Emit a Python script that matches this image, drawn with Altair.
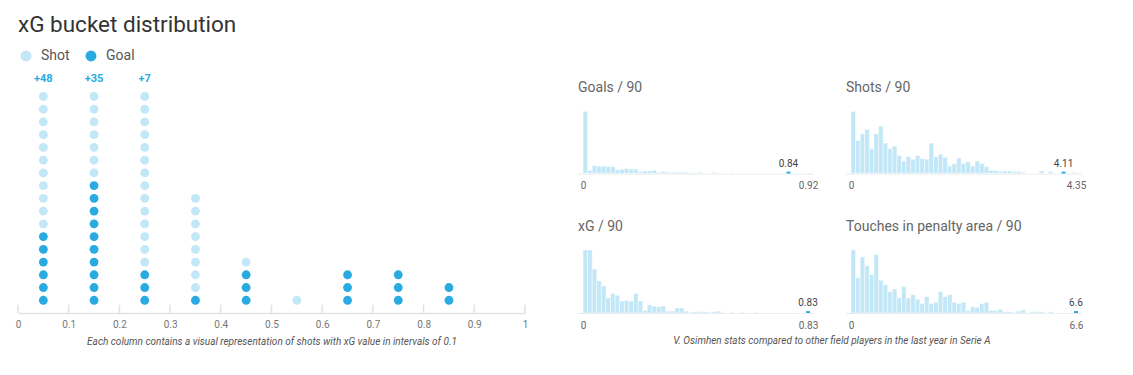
import altair as alt
import pandas as pd

FONT = "Roboto"
LIGHT = "#c2e7f7"
DARK = "#29abe2"

# ---------------- left chart data ----------------
bucket_centers = [0.05, 0.15, 0.25, 0.35, 0.45, 0.55, 0.65, 0.75, 0.85]
shots_per_bucket = [65, 52, 24, 9, 4, 1, 3, 3, 2]   # all shots (goals included)
goals_per_bucket = [6, 10, 3, 1, 3, 0, 3, 3, 2]
MAX_DOTS = 17
xg_ticks = [0, 0.1, 0.2, 0.3, 0.4, 0.5, 0.6, 0.7, 0.8, 0.9, 1]
kinds = ["Shot", "Goal"]

# ---------------- right charts data (relative bar heights, 49 bins) ----------------
goals90 = [100, 5, 13, 12, 12, 11, 11, 6, 7, 8, 7, 7, 3, 4, 4, 5, 2, 3, 2, 2,
           2, 2, 2, 1, 1, 2, 0, 0, 2, 1, 1, 0, 1, 0, 0, 0, 0, 0, 0, 0,
           0, 0, 0, 0, 0, 1, 0, 0, 0]
shots90 = [100, 53, 64, 71, 40, 64, 76, 49, 40, 44, 29, 20, 27, 23, 29, 24, 23, 49, 27, 31,
           26, 12, 16, 25, 16, 19, 12, 20, 16, 11, 5, 5, 3, 4, 4, 3, 3, 2, 0, 0,
           0, 4, 0, 3, 0, 0, 0, 0, 2]
xg90 = [100, 100, 70, 51, 43, 24, 31, 28, 19, 20, 19, 31, 19, 4, 13, 11, 10, 11, 3, 3,
        8, 8, 3, 1, 2, 2, 2, 1, 2, 3, 1, 0, 1, 0, 1, 0, 0, 1, 0, 0,
        0, 0, 0, 0, 0, 0, 0, 0, 0]
touches90 = [100, 56, 89, 75, 61, 93, 52, 45, 34, 38, 24, 42, 24, 29, 22, 15, 26, 15, 17, 34,
             26, 29, 17, 15, 17, 4, 10, 9, 15, 17, 4, 4, 6, 2, 2, 1, 3, 5, 0, 2,
             2, 2, 0, 2, 0, 0, 0, 0, 0]
panel_titles = ["Goals / 90", "Shots / 90", "xG / 90", "Touches in penalty area / 90"]
panel_max = [0.92, 4.35, 0.83, 6.6]
player_values = [0.84, 4.11, 0.83, 6.6]

left_caption = "Each column contains a visual representation of shots with xG value in intervals of 0.1"
right_caption = "V. Osimhen stats compared to other field players in the last year in Serie A"

# ---------------- left chart ----------------
rows = []
for b, t, g in zip(bucket_centers, shots_per_bucket, goals_per_bucket):
    for r in range(1, min(t, MAX_DOTS) + 1):
        rows.append({"xg": b, "row": r, "kind": "Goal" if r <= g else "Shot"})
dots = pd.DataFrame(rows)
overflow = pd.DataFrame(
    [{"xg": b, "label": f"+{t - MAX_DOTS}"} for b, t in zip(bucket_centers, shots_per_bucket) if t > MAX_DOTS]
)
ticks_df = pd.DataFrame({"xg": xg_ticks})

x_left = alt.X(
    "xg:Q",
    scale=alt.Scale(domain=[0, 1], nice=False),
    axis=alt.Axis(
        values=xg_ticks, labelExpr="'' + datum.value", title=left_caption, grid=False, ticks=False,
        domainColor="#e2e2e2", domainWidth=1.5, labelColor="#777777", labelFontSize=10,
        labelFont=FONT, labelPadding=6, labelFlush=False, titleFont=FONT, titleFontSize=10,
        titleFontStyle="italic", titleFontWeight="normal", titleColor="#555555", titlePadding=7,
    ),
)
yscale_left = alt.Scale(domain=[0, 19], nice=False)

tick_rules = alt.Chart(ticks_df).transform_calculate(
    y0="0", y1="0.65"
).mark_rule(color="#e2e2e2", strokeWidth=1.5).encode(
    x=x_left, y=alt.Y("y0:Q", scale=yscale_left, axis=None), y2="y1:Q"
)
points = alt.Chart(dots).mark_circle(size=78, opacity=1).encode(
    x=x_left,
    y=alt.Y("row:Q", scale=yscale_left, axis=None),
    color=alt.Color(
        "kind:N",
        scale=alt.Scale(domain=kinds, range=[LIGHT, DARK]),
        legend=alt.Legend(
            orient="none", legendX=1, legendY=-22, direction="horizontal", title=None,
            symbolType="circle", symbolSize=120, symbolStrokeWidth=0, labelFontSize=14,
            labelColor="#555555", labelFont=FONT, columnPadding=14, labelOffset=8,
        ),
    ),
)
labels = alt.Chart(overflow).transform_calculate(
    ytop=str(MAX_DOTS)
).mark_text(
    color=DARK, fontSize=11, font=FONT, fontWeight="bold", dy=-17
).encode(x=x_left, y=alt.Y("ytop:Q", scale=yscale_left, axis=None), text="label:N")

left = alt.layer(tick_rules, points, labels).properties(width=507, height=242)


# ---------------- right charts ----------------
def hist(values, vmax, player, title, height, ydom, title_offset):
    n = len(values)
    w = vmax / n
    df = pd.DataFrame({
        "x0": [i * w for i in range(n)],
        "x1": [(i + 1) * w for i in range(n)],
        "count": values,
    })
    pdf = pd.DataFrame({"x0": [player]})
    x = alt.X(
        "x0:Q",
        scale=alt.Scale(domain=[0, vmax], nice=False, zero=True),
        axis=alt.Axis(
            values=[0, vmax], labelExpr="'' + datum.value", title=None, grid=False, ticks=False,
            domainColor="#e6e6e6", domainWidth=1, labelColor="#666666", labelFontSize=10,
            labelFont=FONT, labelPadding=7, labelFlush=False,
        ),
    )
    ysc = alt.Scale(domain=[0, ydom], nice=False)
    bars = alt.Chart(df).transform_calculate(base="0").mark_bar(
        color=LIGHT, stroke="white", strokeWidth=0.5
    ).encode(
        x=x, x2="x1:Q", y=alt.Y("count:Q", scale=ysc, axis=None), y2="base:Q"
    )
    mark = alt.Chart(pdf).transform_calculate(b0="0", b1="3").mark_bar(
        color=DARK, width=4
    ).encode(x=x, y=alt.Y("b0:Q", scale=ysc, axis=None), y2="b1:Q")
    txt = alt.Chart(pdf).transform_calculate(b0="0").mark_text(
        color="#444444", fontSize=10, font=FONT, dy=-10, baseline="middle"
    ).encode(x=x, y=alt.Y("b0:Q", scale=ysc, axis=None), text=alt.Text("x0:Q", format="~g"))
    return alt.layer(bars, mark, txt).properties(
        width=235, height=height,
        title=alt.TitleParams(
            title, anchor="start", fontSize=14, color="#666666", fontWeight="normal",
            font=FONT, offset=title_offset,
        ),
    )


h1 = hist(goals90, panel_max[0], player_values[0], panel_titles[0], 102.5, 165, -24)
h2 = hist(shots90, panel_max[1], player_values[1], panel_titles[1], 102.5, 165, -24)
h3 = hist(xg90, panel_max[2], player_values[2], panel_titles[2], 63, 100, 16)
h4 = hist(touches90, panel_max[3], player_values[3], panel_titles[3], 63, 100, 16)

right = alt.concat(
    h1, h2, h3, h4, columns=2, spacing={"row": 76, "column": 33}, bounds="flush",
    title=alt.TitleParams(
        right_caption, orient="bottom", anchor="middle", fontSize=10, fontStyle="italic",
        fontWeight="normal", color="#555555", font=FONT, offset=6,
    ),
)

chart = alt.hconcat(
    left, right, spacing=53, bounds="flush",
    padding={"left": 7, "top": 5, "right": 5, "bottom": 5},
    title=alt.TitleParams(
        "xG bucket distribution", anchor="start", fontSize=22.5, color="#333333",
        fontWeight="normal", font=FONT, offset=13, frame="group",
    ),
).configure_view(stroke=None)

chart.save("out.html", embed_options={"renderer": "svg", "actions": False})
